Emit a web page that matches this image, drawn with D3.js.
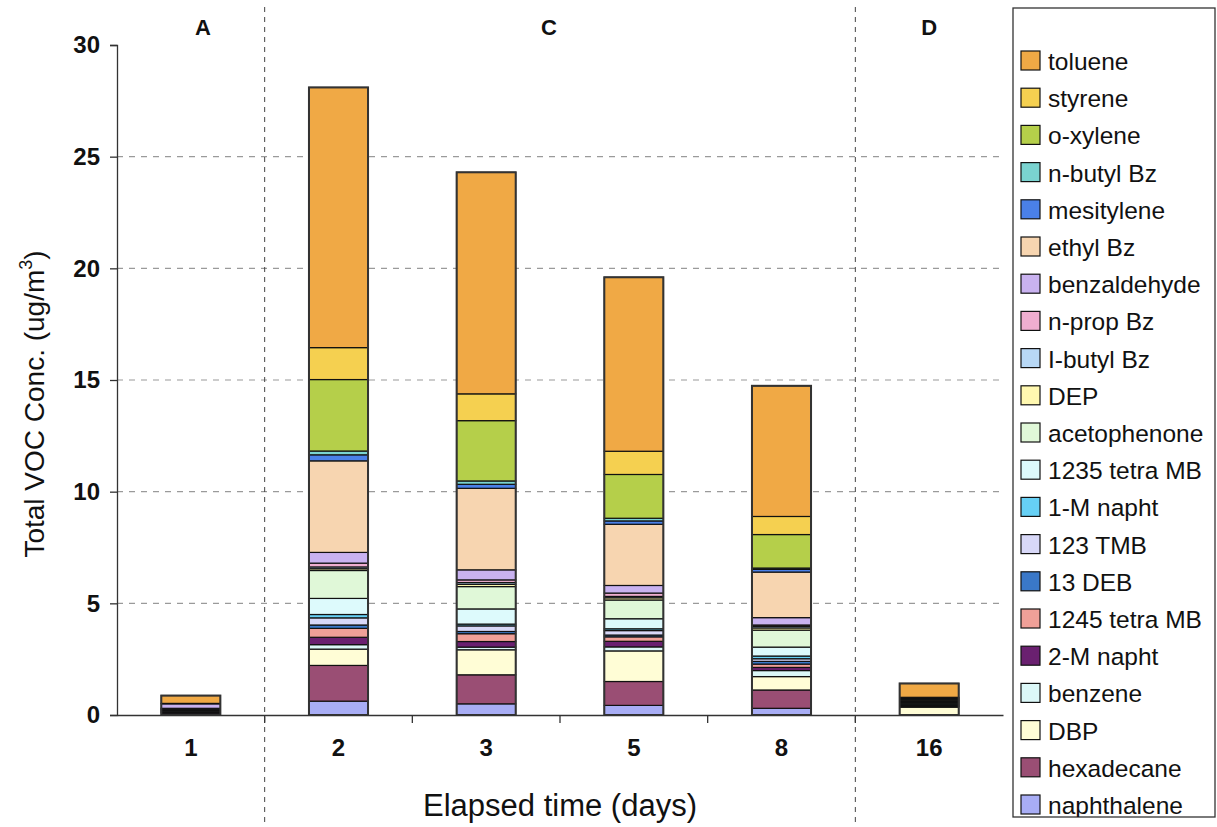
<!DOCTYPE html>
<html>
<head>
<meta charset="utf-8">
<script src="https://cdn.jsdelivr.net/npm/d3@7"></script>
<style>
  body { margin: 0; background: #fff; }
  svg { font-family: "Liberation Sans", Arial, sans-serif; }
</style>
</head>
<body>
<div id="chart"></div>
<script>
// DATA (stack order: bottom first)
const categories = ["1", "2", "3", "5", "8", "16"];
const seriesNames = ["naphthalene", "hexadecane", "DBP", "benzene", "2-M napht", "1245 tetra MB",
  "13 DEB", "123 TMB", "1-M napht", "1235 tetra MB", "acetophenone", "DEP", "I-butyl Bz",
  "n-prop Bz", "benzaldehyde", "ethyl Bz", "mesitylene", "n-butyl Bz", "o-xylene", "styrene", "toluene"];
const seriesColors = ["#a8adf5", "#9a4e74", "#fffdd6", "#dcf8f8", "#6a2070", "#f0a098",
  "#3a78c8", "#d8d8f8", "#66d0f5", "#ddfafc", "#e0f8d8", "#fff8b0", "#b8d8f5",
  "#efaed0", "#c9b2f0", "#f7d5b0", "#4a80e8", "#7ad3d0", "#b5cf4a", "#f5d050", "#f0a945"];
const seriesValues = [
  [0, 0.62, 0.5, 0.43, 0.3, 0],          // naphthalene
  [0, 1.6, 1.3, 1.07, 0.82, 0],          // hexadecane
  [0, 0.73, 1.12, 1.37, 0.6, 0.35],      // DBP
  [0.08, 0.2, 0.12, 0.18, 0.27, 0.026],  // benzene
  [0.03, 0.33, 0.25, 0.25, 0.14, 0.026], // 2-M napht
  [0.03, 0.4, 0.35, 0.2, 0.15, 0.026],   // 1245 tetra MB
  [0.03, 0.15, 0.1, 0.08, 0.12, 0.026],  // 13 DEB
  [0.03, 0.32, 0.25, 0.2, 0.12, 0.026],  // 123 TMB
  [0.03, 0.15, 0.08, 0.08, 0.12, 0.026], // 1-M napht
  [0.03, 0.72, 0.68, 0.45, 0.4, 0.026],  // 1235 tetra MB
  [0.02, 1.25, 1.0, 0.84, 0.76, 0.026],  // acetophenone
  [0.02, 0.08, 0.1, 0.1, 0.1, 0.026],    // DEP
  [0, 0.08, 0.08, 0.06, 0.07, 0.026],    // I-butyl Bz
  [0, 0.17, 0.12, 0.15, 0.06, 0.026],    // n-prop Bz
  [0.2, 0.48, 0.45, 0.34, 0.33, 0.026],  // benzaldehyde
  [0.02, 4.1, 3.65, 2.74, 2.04, 0.026],  // ethyl Bz
  [0, 0.27, 0.18, 0.15, 0.12, 0.026],    // mesitylene
  [0, 0.17, 0.15, 0.12, 0.06, 0.026],    // n-butyl Bz
  [0, 3.2, 2.7, 1.96, 1.5, 0.026],       // o-xylene
  [0, 1.43, 1.2, 1.04, 0.81, 0.026],     // styrene
  [0.35, 11.65, 9.92, 7.79, 5.85, 0.62]  // toluene
];
const yTicks = [0, 5, 10, 15, 20, 25, 30];
const gridTicks = [5, 10, 15, 20, 25];
const groupLabels = ["A", "C", "D"];
const groupFirst = ["1", "2", "16"];
const groupLast = ["1", "8", "16"];
const separators = ["1", "8"]; // dashed line after these categories

// table for d3.stack
const table = categories.map((c, i) => {
  const row = { cat: c };
  seriesNames.forEach((s, j) => row[s] = seriesValues[j][i]);
  return row;
});

const W = 1217, H = 827;
const margin = { top: 45, right: 214, bottom: 112, left: 117 };
const width = W - margin.left - margin.right;
const height = H - margin.top - margin.bottom;

const svg = d3.select("#chart").append("svg").attr("width", W).attr("height", H);
const g = svg.append("g").attr("transform", `translate(${margin.left},${margin.top})`);

const x = d3.scaleBand().domain(categories).range([0, width]).paddingInner(0.6).paddingOuter(0.3);
const y = d3.scaleLinear().domain([0, 30]).range([height, 0]);
const step = x.step();
const bandStart = c => x(c) - step * x.paddingInner() / 2;

// gridlines
g.append("g").selectAll("line").data(gridTicks).join("line")
  .attr("x1", 0).attr("x2", width)
  .attr("y1", d => y(d)).attr("y2", d => y(d))
  .attr("stroke", "#9a9a9a").attr("stroke-width", 1.2).attr("stroke-dasharray", "6,6");

// dashed separators
g.append("g").selectAll("line").data(separators).join("line")
  .attr("x1", d => bandStart(d) + step).attr("x2", d => bandStart(d) + step)
  .attr("y1", -38).attr("y2", H - margin.top - 4)
  .attr("stroke", "#444").attr("stroke-width", 1).attr("stroke-dasharray", "5,5");

// group labels
const groupNudge = [12, -11, 0];
g.append("g").selectAll("text").data(groupLabels).join("text")
  .attr("x", (d, i) => (bandStart(groupFirst[i]) + bandStart(groupLast[i]) + step) / 2 + groupNudge[i])
  .attr("y", -10)
  .attr("text-anchor", "middle")
  .attr("font-size", 22).attr("font-weight", "bold").attr("fill", "#111")
  .text(d => d);

// stacked bars
const stack = d3.stack().keys(seriesNames);
const stacked = stack(table);
g.append("g").selectAll("g").data(stacked).join("g")
  .attr("fill", (d, i) => seriesColors[i])
  .selectAll("rect").data(d => d.filter(p => p[1] - p[0] > 0)).join("rect")
  .attr("x", d => x(d.data.cat))
  .attr("width", x.bandwidth())
  .attr("y", d => y(d[1]))
  .attr("height", d => y(d[0]) - y(d[1]))
  .attr("stroke", "#111").attr("stroke-width", 1.2);

// bar outlines
const totals = table.map(r => d3.sum(seriesNames, s => r[s]));
g.append("g").selectAll("rect").data(categories).join("rect")
  .attr("x", d => x(d)).attr("width", x.bandwidth())
  .attr("y", (d, i) => y(totals[i])).attr("height", (d, i) => y(0) - y(totals[i]))
  .attr("fill", "none").attr("stroke", "#333").attr("stroke-width", 2);

// y axis
const yAxis = g.append("g")
  .call(d3.axisLeft(y).tickValues(yTicks).tickSize(7).tickPadding(10));
yAxis.select(".domain").attr("stroke", "#333").attr("stroke-width", 1.3);
yAxis.selectAll(".tick line").attr("stroke", "#333").attr("stroke-width", 1.3);
yAxis.selectAll("text").attr("font-size", 24).attr("font-weight", "bold")
  .attr("fill", "#111").attr("font-family", "Liberation Sans, Arial, sans-serif");

// x axis
const xAxis = g.append("g").attr("transform", `translate(0,${height})`)
  .call(d3.axisBottom(x).tickSize(0).tickPadding(24));
xAxis.select(".domain").attr("stroke", "#333").attr("stroke-width", 1.3);
xAxis.selectAll("text").attr("font-size", 24).attr("font-weight", "bold")
  .attr("fill", "#111").attr("font-family", "Liberation Sans, Arial, sans-serif");
xAxis.append("g").selectAll("line").data(categories.slice(0, -1)).join("line")
  .attr("x1", d => bandStart(d) + step).attr("x2", d => bandStart(d) + step)
  .attr("y1", 0).attr("y2", 8)
  .attr("stroke", "#333").attr("stroke-width", 1.3);

// axis titles
const yTitle = svg.append("text")
  .attr("transform", `translate(44,${margin.top + height / 2 + 24}) rotate(-90)`)
  .attr("text-anchor", "middle").attr("font-size", 28).attr("fill", "#111");
yTitle.append("tspan").text("Total VOC Conc. (ug/m");
yTitle.append("tspan").attr("font-size", 18).attr("dy", -12).text("3");
yTitle.append("tspan").attr("dy", 12).text(")");

svg.append("text")
  .attr("x", 560).attr("y", 816)
  .attr("text-anchor", "middle").attr("font-size", 31).attr("fill", "#111")
  .text("Elapsed time (days)");

// legend
const legX = 1013, legY = 8, legW = 202, legH = 809, rowH = 37.2;
svg.append("clipPath").attr("id", "legclip")
  .append("rect").attr("x", legX).attr("y", legY).attr("width", legW).attr("height", legH);
svg.append("rect").attr("x", legX).attr("y", legY).attr("width", legW).attr("height", legH)
  .attr("fill", "#fff").attr("stroke", "#333").attr("stroke-width", 1.3);
const legendOrder = seriesNames.map((s, i) => i).reverse();
const leg = svg.append("g").attr("clip-path", "url(#legclip)")
  .selectAll("g").data(legendOrder).join("g")
  .attr("transform", (d, i) => `translate(${legX + 8},${legY + 53 + i * rowH})`);
leg.append("rect").attr("x", 0).attr("y", -10).attr("width", 19).attr("height", 19)
  .attr("fill", d => seriesColors[d]).attr("stroke", "#111").attr("stroke-width", 1.2);
leg.append("text").attr("x", 27).attr("y", 9).attr("font-size", 24.5).attr("fill", "#111")
  .text(d => seriesNames[d]);
</script>
</body>
</html>
